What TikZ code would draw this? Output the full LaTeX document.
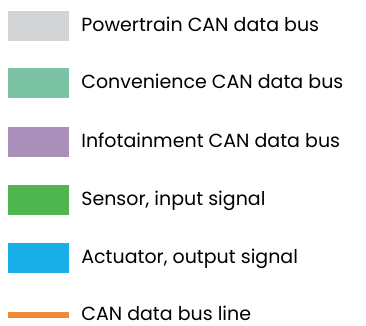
\documentclass[tikz,border=0pt]{standalone}
\usepackage{fontspec}
\setmainfont{Poppins}
\usetikzlibrary{positioning}
\definecolor{ptgrey}{HTML}{D3D4D6}
\definecolor{cvteal}{HTML}{7CC2A4}
\definecolor{ifpurple}{HTML}{A98FB9}
\definecolor{snsgreen}{HTML}{4FB54F}
\definecolor{actblue}{HTML}{1AAEE8}
\definecolor{busorange}{HTML}{F08A35}
\tikzset{
  swatch/.style={draw=none,minimum width=61pt,minimum height=30pt,inner sep=0pt},
  busline/.style={draw=none,minimum width=61pt,minimum height=6pt,inner sep=0pt},
  legtext/.style={right=12pt of #1,anchor=base west,yshift=-5.5pt,inner sep=0pt,font=\fontsize{19}{23}\selectfont}
}
\begin{document}
\begin{tikzpicture}[x=1pt,y=-1pt]
	\useasboundingbox (0,0) rectangle (366,325);

	%buses
	\node[swatch,fill=ptgrey] (pt) at (38.5,25.5) {};
	\node[legtext=pt] (ptlab) {Powertrain CAN data bus};

	\node[swatch,fill=cvteal] (cv) at (38.5,83) {};
	\node[legtext=cv] (cvlab) {Convenience CAN data bus};

	\node[swatch,fill=ifpurple] (inf) at (38.5,141.5) {};
	\node[legtext=inf] (inflab) {Infotainment CAN data bus};

	%signals
	\node[swatch,fill=snsgreen] (sns) at (38.5,200) {};
	\node[legtext=sns] (snslab) {Sensor, input signal};

	\node[swatch,fill=actblue] (act) at (38.5,258) {};
	\node[legtext=act] (actlab) {Actuator, output signal};

	%bus line
	\node[busline,fill=busorange] (bus) at (38.5,315) {};
	\node[legtext=bus] (buslab) {CAN data bus line};
\end{tikzpicture}
\end{document}
